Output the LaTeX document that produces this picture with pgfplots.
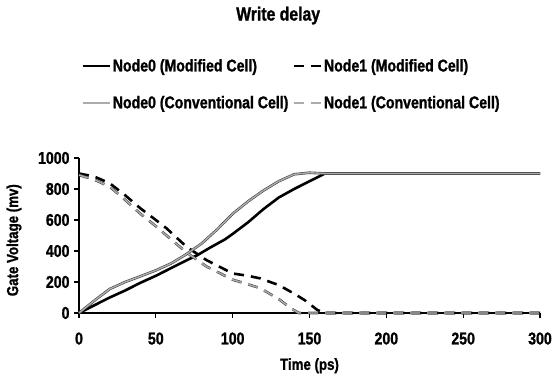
\documentclass[border=0pt]{standalone}
\usepackage{pgfplots}
\pgfplotsset{compat=1.18}
\usepackage{fontspec}
\setmainfont[FakeStretch=0.83, BoldFont={Liberation Sans Bold}, BoldFeatures={FakeStretch=0.83, FakeBold=1.2}]{Liberation Sans}
\begin{document}
\begin{tikzpicture}
\useasboundingbox (0,0) rectangle (556pt,381pt);
\begin{axis}[
  at={(79pt,68pt)}, anchor=south west,
  scale only axis, width=461pt, height=155pt,
  xmin=0, xmax=300, ymin=0, ymax=1000,
  axis lines=left, axis line style={-, line width=1.8pt},
  xtick={0,50,...,300}, ytick={0,200,...,1000},
  tick style={line width=1.3pt, black},
  tick align=outside, major tick length=5pt,
  /pgf/number format/assume math mode=true,
  /pgf/number format/1000 sep={},
  ticklabel style={font=\bfseries\fontsize{17}{17}\selectfont},
  xticklabel style={yshift=-11pt},
  yticklabel style={xshift=-1pt},
  xlabel={Time (ps)}, ylabel={Gate Voltage (mv)},
  label style={font=\bfseries\fontsize{16}{16}\selectfont},
  xlabel style={at={(axis description cs:0.5,-0.34)}, anchor=center},
  ylabel style={at={(axis description cs:-0.141,0.47)}, anchor=center},
  title={Write delay},
  title style={font=\bfseries\fontsize{19}{19}\selectfont, at={(axis description cs:0.432,1.88)}, anchor=center},
  legend columns=2,
  legend cell align=left,
  legend style={draw=none, fill=none, font=\bfseries\fontsize{17}{17}\selectfont,
    at={(axis description cs:0.0,1.665)}, anchor=north west,
    row sep=19pt,
    /tikz/every even column/.append style={column sep=2pt},
    inner xsep=2pt},
  legend image code/.code={\draw[#1] (0pt,0pt) -- (27pt,0pt);},
  clip=false,
]
\addplot[black, line width=2.6pt] coordinates {
(0,0)(10,50)(20,100)(30,145)(40,195)(50,240)(60,290)(70,340)(77,373)(85,420)(95,475)(100,510)(110,585)(120,670)(130,745)(140,800)(150,850)(160,900)(170,900)(300,900)};
\addlegendentry{Node0 (Modified Cell)}
\addplot[black, line width=2.6pt, dash pattern=on 10pt off 7pt] coordinates {
(0,900)(10,880)(20,837)(30,760)(40,675)(50,600)(57,546)(70,427)(83,341)(100,255)(110,240)(118,223)(130,180)(140,125)(147,82)(155,20)(160,0)(300,0)};
\addlegendentry{Node1 (Modified Cell)}
\addplot[draw=gray!55!black, line width=0.6pt, double=gray!65, double distance=1.4pt] coordinates {
(0,0)(10,80)(20,155)(30,200)(40,237)(50,275)(60,320)(70,380)(80,450)(90,540)(100,640)(110,720)(120,790)(130,850)(140,895)(150,905)(160,900)(300,900)};
\addlegendentry{Node0 (Conventional Cell)}
\addplot[draw=gray!55!black, line width=0.6pt, double=gray!65, double distance=1.4pt, dash pattern=on 10pt off 7pt] coordinates {
(0,890)(10,860)(20,815)(30,730)(40,640)(50,560)(57,500)(70,390)(83,300)(100,215)(110,185)(118,160)(130,90)(138,30)(143,0)(300,0)};
\addlegendentry{Node1 (Conventional Cell)}
\end{axis}
\end{tikzpicture}
\end{document}
